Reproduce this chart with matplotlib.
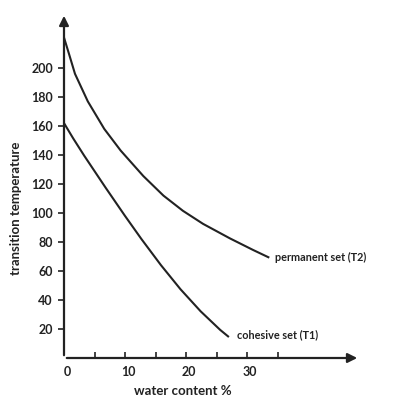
import numpy as np
import matplotlib
matplotlib.use("Agg")
from matplotlib import pyplot as plt

# curves (water content %, transition temperature)
t2_x = [0, 0.8, 1.8, 3.9, 6.6, 9.3, 13, 16.3, 19.5, 22.8, 27.2, 31, 33.5]
t2_y = [221, 210, 196, 177, 158, 143, 125.5, 112, 101.5, 92.5, 82.5, 74.5, 69.5]
t1_x = [0, 1.5, 3.3, 6.8, 10, 12.7, 15.9, 19.1, 22.4, 25.6, 26.9]
t1_y = [162, 151.5, 139.6, 117.6, 98, 82, 64, 47.4, 32.2, 19.4, 14.9]

y_ticks = [20, 40, 60, 80, 100, 120, 140, 160, 180, 200]
x_ticks = [5, 10, 15, 20, 25, 30, 35]
x_labels = {0: "0", 10: "10", 20: "20", 30: "30"}

plt.rcParams["font.family"] = ["Lato", "DejaVu Sans"]
plt.rcParams["font.weight"] = "bold"
ink = "#222222"

fig = plt.figure(figsize=(3.97, 3.97), dpi=100)
ax = fig.add_axes([64 / 397, 39 / 397, 296 / 397, 345 / 397])
ax.set_xlim(0, 296 / 6.1)
ax.set_ylim(0, 345 / 1.45)

for s in ax.spines.values():
    s.set_visible(False)

# axes drawn as arrows
ax.annotate("", xy=(1.0, 0), xytext=(0, 0), xycoords="axes fraction",
            arrowprops=dict(arrowstyle="-|>", lw=1.6, color=ink, mutation_scale=14))
ax.annotate("", xy=(0, 1.0), xytext=(0, 0), xycoords="axes fraction",
            arrowprops=dict(arrowstyle="-|>", lw=1.6, color=ink, mutation_scale=14))

ax.plot(t2_x, t2_y, color=ink, lw=1.5, solid_joinstyle="round")
ax.plot(t1_x, t1_y, color=ink, lw=1.5, solid_joinstyle="round")

ax.set_yticks(y_ticks)
ax.set_yticklabels([str(v) for v in y_ticks], fontsize=9, fontweight="bold", color=ink)
ax.tick_params(axis="y", length=4.5, width=1.2, direction="out", pad=3.5, color=ink)

ax.set_xticks(x_ticks)
ax.set_xticklabels([""] * len(x_ticks))
ax.tick_params(axis="x", length=4, width=1.2, direction="in", color=ink)
for v, lab in x_labels.items():
    ax.text(v + 0.5, -10, lab, ha="center", va="center", fontsize=9, fontweight="bold", color=ink)

ax.text(-7.8, 103, "transition temperature", rotation=90, ha="center", va="center",
        fontsize=9.5, fontweight="bold", color=ink)
ax.text(19.5, -22.5, "water content %", ha="center", va="center", fontsize=9.5,
        fontweight="bold", color=ink)

ax.text(34.6, 69, "permanent set (T2)", ha="left", va="center", fontsize=7.8,
        fontweight="bold", color=ink)
ax.text(28.4, 16, "cohesive set (T1)", ha="left", va="center", fontsize=7.8,
        fontweight="bold", color=ink)

fig.savefig("out.png", dpi=100)
